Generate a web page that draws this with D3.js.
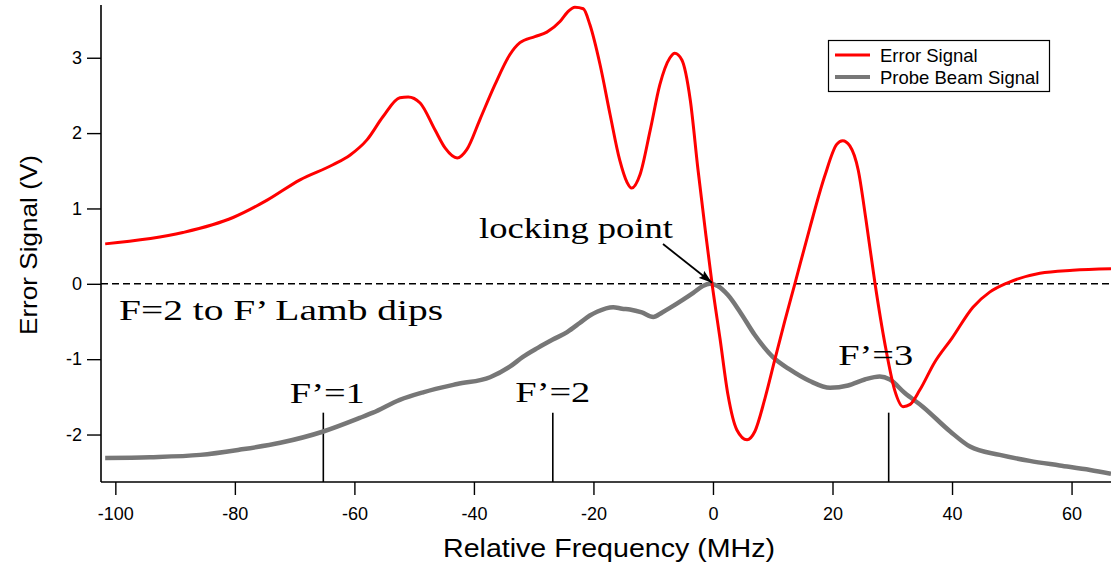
<!DOCTYPE html>
<html>
<head>
<meta charset="utf-8">
<script src="https://cdn.jsdelivr.net/npm/d3@7"></script>
<style>
  html, body { margin: 0; padding: 0; background: #fff; }
  svg { display: block; }
</style>
</head>
<body>
<svg id="chart" width="1111" height="565"></svg>
<script>
// ---- data ----
const errFreq = [-101.7,-88.7,-80.3,-74.6,-69.1,-63.6,-60.7,-57.9,-55.2,-52.4,-51.0,-49.0,-46.5,-44.8,-42.8,-41.2,-39.0,-36.5,-34.0,-32.3,-29.8,-27.8,-25.6,-24.3,-23.1,-21.7,-20.6,-18.9,-17.2,-15.6,-14.4,-13.6,-12.2,-10.5,-8.9,-7.2,-6.4,-5.2,-3.8,-2.5,-1.3,-0.17,1.2,2.5,4.0,5.7,7.0,8.7,10.4,12.0,13.7,16.2,18.7,20.7,21.7,22.9,24.3,25.6,27.1,28.8,30.4,31.8,33.0,34.6,37.1,40.0,43.5,46.3,49.2,54.7,60.2,66.6];
const errVolt = [0.53,0.68,0.88,1.11,1.38,1.58,1.71,1.91,2.22,2.47,2.48,2.40,2.04,1.80,1.67,1.78,2.18,2.64,3.04,3.20,3.28,3.34,3.48,3.61,3.67,3.65,3.44,2.91,2.24,1.64,1.35,1.27,1.45,2.04,2.64,3.00,3.06,2.97,2.44,1.51,0.72,0.01,-0.74,-1.47,-1.94,-2.07,-1.96,-1.52,-0.99,-0.50,0.00,0.74,1.43,1.85,1.90,1.83,1.51,0.85,0.01,-0.81,-1.41,-1.63,-1.60,-1.41,-1.04,-0.72,-0.31,-0.11,0.01,0.14,0.18,0.20];

const probeFreq = [-101.7,-94.2,-85.8,-79.1,-72.4,-65.2,-59.1,-56.9,-52.4,-48.5,-42.8,-37.3,-34.0,-31.8,-29.3,-26.8,-24.4,-22.3,-20.6,-19.4,-16.7,-15.2,-13.9,-11.9,-10.0,-8.5,-7.2,-5.0,-3.3,-1.7,-0.5,0.8,2.5,4.5,7.0,10.0,12.9,16.2,19.6,22.6,25.4,27.9,29.6,32.1,35.1,39.7,43.0,48.0,53.0,58.0,63.1,66.6];
const probeVolt = [-2.31,-2.30,-2.27,-2.20,-2.11,-1.96,-1.78,-1.71,-1.54,-1.44,-1.33,-1.24,-1.10,-0.97,-0.85,-0.74,-0.64,-0.52,-0.42,-0.37,-0.31,-0.33,-0.34,-0.38,-0.44,-0.38,-0.32,-0.21,-0.12,-0.03,0.0,-0.03,-0.15,-0.37,-0.68,-0.97,-1.14,-1.29,-1.38,-1.35,-1.27,-1.23,-1.27,-1.45,-1.63,-1.96,-2.16,-2.27,-2.35,-2.41,-2.47,-2.52];

const xTicks = [-100,-80,-60,-40,-20,0,20,40,60];
const yTicks = [-2,-1,0,1,2,3];
const seriesNames = ["Error Signal","Probe Beam Signal"];
const markerFreq = [-65.2,-26.8,29.4];
const markerLabels = ["F’=1","F’=2","F’=3"];
const markerLabelVolt = [-1.58,-1.57,-1.08];
const markerTopVolt = -1.71;

// ---- layout ----
const svg = d3.select("#chart");
const L = 101, R = 1111, T = 5, B = 482;
const x = d3.scaleLinear().domain([-102.4, 66.6]).range([L, R]);
const y = d3.scaleLinear().domain([-2.63, 3.70]).range([B, T]);

const colErr = "#ff0000", colProbe = "#777777";
const sans = "'Liberation Sans', Arial, sans-serif";
const serif = "'Liberation Serif', 'Times New Roman', serif";

// zero dashed line
svg.append("line")
  .attr("x1", L).attr("x2", R)
  .attr("y1", y(0)).attr("y2", y(0))
  .attr("stroke", "#000").attr("stroke-width", 1.4)
  .attr("stroke-dasharray", "7,4");

// marker lines
markerFreq.forEach(f => {
  svg.append("line")
    .attr("x1", x(f)).attr("x2", x(f))
    .attr("y1", y(markerTopVolt)).attr("y2", B)
    .attr("stroke", "#000").attr("stroke-width", 1.6);
});

// curves
const line = d3.line().x(d => x(d[0])).y(d => y(d[1])).curve(d3.curveMonotoneX);
svg.append("path")
  .datum(probeFreq.map((f, i) => [f, probeVolt[i]]))
  .attr("d", line).attr("fill", "none")
  .attr("stroke", colProbe).attr("stroke-width", 4.5).attr("stroke-linejoin", "round");
svg.append("path")
  .datum(errFreq.map((f, i) => [f, errVolt[i]]))
  .attr("d", line).attr("fill", "none")
  .attr("stroke", colErr).attr("stroke-width", 3).attr("stroke-linejoin", "round");

// axes
const fmt = d => String(d);
const xAxis = d3.axisBottom(x).tickValues(xTicks).tickFormat(fmt).tickSize(13).tickSizeOuter(0).tickPadding(12);
const gx = svg.append("g").attr("transform", `translate(0,${B})`).call(xAxis);
const yAxis = d3.axisLeft(y).tickValues(yTicks).tickFormat(fmt).tickSize(14).tickSizeOuter(0).tickPadding(5);
const gy = svg.append("g").attr("transform", `translate(${L},0)`).call(yAxis);
[gx, gy].forEach(g => {
  g.select(".domain").attr("stroke", "#000").attr("stroke-width", 1.6);
  g.selectAll(".tick line").attr("stroke", "#000").attr("stroke-width", 1.4);
  g.selectAll(".tick text").attr("fill", "#000")
    .style("font-family", sans).style("font-size", "18px");
});
gx.select(".domain").attr("d", `M${L},0H${R}`);
gy.select(".domain").attr("d", `M0,${T}V${B}`);

// axis titles
svg.append("text")
  .attr("x", 609).attr("y", 557)
  .attr("text-anchor", "middle")
  .attr("textLength", 332).attr("lengthAdjust", "spacingAndGlyphs")
  .style("font-family", sans).style("font-size", "25px")
  .text("Relative Frequency (MHz)");
svg.append("text")
  .attr("transform", `translate(37,${245}) rotate(-90)`)
  .attr("text-anchor", "middle")
  .attr("textLength", 180).attr("lengthAdjust", "spacingAndGlyphs")
  .style("font-family", sans).style("font-size", "24px")
  .text("Error Signal (V)");

// annotations (serif)
svg.append("text").attr("x", 119).attr("y", 320)
  .attr("textLength", 324).attr("lengthAdjust", "spacingAndGlyphs")
  .style("font-family", serif).style("font-size", "30px")
  .text("F=2 to F’ Lamb dips");
svg.append("text").attr("x", 479).attr("y", 238)
  .attr("textLength", 194).attr("lengthAdjust", "spacingAndGlyphs")
  .style("font-family", serif).style("font-size", "30px")
  .text("locking point");
markerFreq.forEach((f, i) => {
  svg.append("text")
    .attr("x", x(f) + [4, 0, -13][i]).attr("y", y(markerLabelVolt[i]))
    .attr("text-anchor", "middle")
    .attr("textLength", 75).attr("lengthAdjust", "spacingAndGlyphs")
    .style("font-family", serif).style("font-size", "30px")
    .text(markerLabels[i]);
});

// arrow
const defs = svg.append("defs");
defs.append("marker").attr("id", "arr")
  .attr("viewBox", "0 0 12 8").attr("refX", 12).attr("refY", 4)
  .attr("markerWidth", 14).attr("markerHeight", 9).attr("orient", "auto")
  .attr("markerUnits", "userSpaceOnUse")
  .append("path").attr("d", "M0,0 L12,4 L0,8 L2,4 z").attr("fill", "#000");
svg.append("line")
  .attr("x1", 663).attr("y1", 244)
  .attr("x2", x(0) - 1).attr("y2", y(0) - 1)
  .attr("stroke", "#000").attr("stroke-width", 1.8)
  .attr("marker-end", "url(#arr)");

// legend
const lg = svg.append("g");
lg.append("rect").attr("x", 828.5).attr("y", 40.5).attr("width", 221).attr("height", 51)
  .attr("fill", "#fff").attr("stroke", "#000").attr("stroke-width", 1.2);
[colErr, colProbe].forEach((c, i) => {
  const yy = 55 + i * 22;
  lg.append("line").attr("x1", 835).attr("x2", 870).attr("y1", yy).attr("y2", yy)
    .attr("stroke", c).attr("stroke-width", i === 0 ? 3 : 4);
  lg.append("text").attr("x", 880).attr("y", yy + 6.5)
    .style("font-family", sans).style("font-size", "18.5px")
    .text(seriesNames[i]);
});
</script>
</body>
</html>
